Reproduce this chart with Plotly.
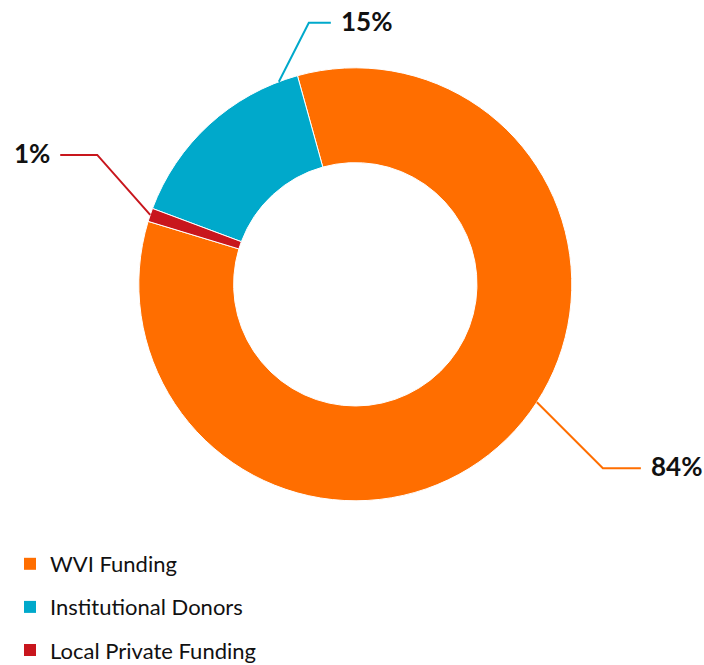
import math
import plotly.graph_objects as go

# ---- data ----
categories = ["WVI Funding", "Institutional Donors", "Local Private Funding"]
values = [84, 15, 1]
colors = ["#FF6E00", "#00A9CB", "#C8161D"]

# ---- layout / style constants ----
W, H = 704, 665
CX, CY, R = 355.3, 284.3, 216.5
HOLE = 0.562
ROTATION = -15.5          # counter-clockwise pie: first slice ends here
# where the leader line touches the slice (fraction of the slice span, ccw)
anchor_frac = [0.542, 0.096, 0.5]
# elbow offset (px) from the anchor and horizontal run (px)
elbow_off = [(66, 66), (30, -59), (-53, -60)]
run_len = [38, 22, -37]
label_gap = 8

fig = go.Figure()
fig.add_trace(go.Pie(
    labels=categories, values=values, sort=False, direction="counterclockwise",
    rotation=ROTATION, hole=HOLE, textinfo="none", hoverinfo="label+percent",
    marker=dict(colors=colors, line=dict(color="white", width=1)),
    domain=dict(x=[(CX - R) / W, (CX + R) / W], y=[1 - (CY + R) / H, 1 - (CY - R) / H]),
    showlegend=False,
))

# legend entries (one group each so spacing can be controlled)
for name, c in zip(categories, colors):
    fig.add_trace(go.Scatter(
        x=[None], y=[None], mode="markers", name=name, legendgroup=name,
        marker=dict(symbol="square", size=12, color=c), showlegend=True,
    ))

def px2paper(x, y):
    return x / W, 1 - y / H

total = sum(values)
start = ROTATION + values[0] / total * 360
shapes, annotations = [], []
for i, v in enumerate(values):
    span = v / total * 360
    ang = math.radians(start - span * anchor_frac[i])
    start -= span
    ax, ay = CX + R * math.sin(ang), CY - R * math.cos(ang)
    ex, ey = ax + elbow_off[i][0], ay + elbow_off[i][1]
    hx, hy = ex + run_len[i], ey
    p = [px2paper(*pt) for pt in [(ax, ay), (ex, ey), (hx, hy)]]
    path = "M {} {} L {} {} L {} {}".format(p[0][0], p[0][1], p[1][0], p[1][1], p[2][0], p[2][1])
    shapes.append(dict(type="path", path=path, xref="paper", yref="paper",
                       line=dict(color=colors[i], width=2)))
    right = run_len[i] > 0
    lx, ly = px2paper(hx + (label_gap if right else -label_gap), hy - 2)
    annotations.append(dict(
        x=lx, y=ly, xref="paper", yref="paper", showarrow=False,
        text="<b>{:.0f}%</b>".format(v / total * 100),
        xanchor="left" if right else "right", yanchor="middle",
        font=dict(family="Lato", size=26, color="#111"),
    ))

fig.update_layout(
    width=W, height=H, margin=dict(l=0, r=0, t=0, b=0, autoexpand=False),
    paper_bgcolor="white", plot_bgcolor="white",
    xaxis=dict(visible=False), yaxis=dict(visible=False),
    shapes=shapes, annotations=annotations,
    legend=dict(x=10 / W, y=1 - 543 / H, xanchor="left", yanchor="top",
                traceorder="grouped", tracegroupgap=11.5,
                font=dict(family="Lato", size=22, color="#111"),
                bgcolor="rgba(0,0,0,0)"),
    font=dict(family="Lato"),
)

fig.write_html("out.html", config={"displayModeBar": False},
               post_script="document.body.style.margin='0';document.body.style.overflow='hidden';")
